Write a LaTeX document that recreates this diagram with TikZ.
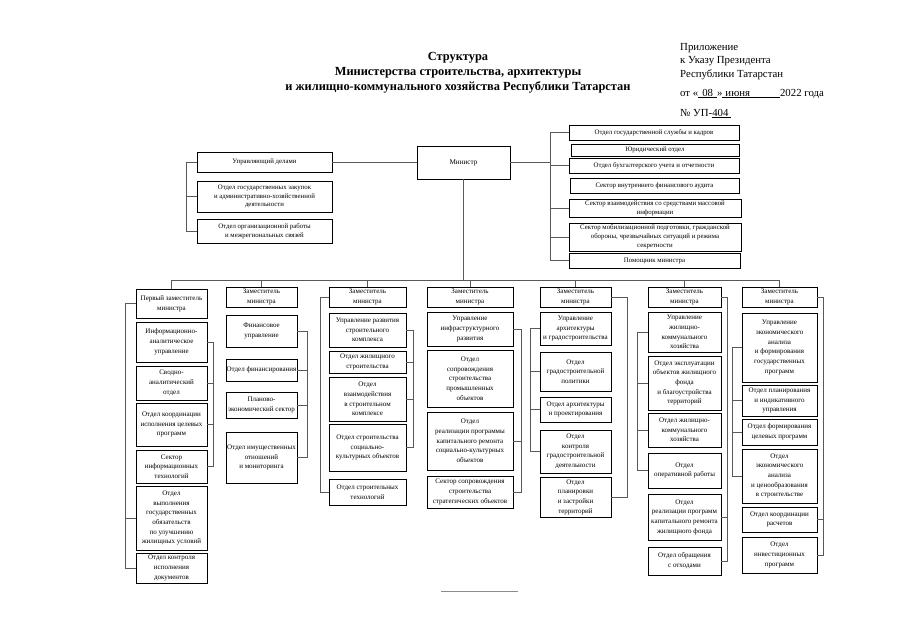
\documentclass[tikz,border=0pt]{standalone}
\usepackage{fontspec}
\setmainfont{Liberation Serif}
\newcommand\bxfont{\fontsize{7}{9.7}\selectfont}
\newcommand\topfont{\fontsize{6.8}{8.8}\selectfont}
\newcommand\hdrfont{\fontsize{10.8}{12}\selectfont}
\newcommand\ttlfont{\fontsize{12.4}{15}\selectfont\bfseries}
\tikzset{
  box/.style={draw, line width=0.85pt, inner sep=0.5pt, align=center, font=\bxfont},
  topbox/.style={box, font=\topfont},
  conn/.style={draw=black!65, line width=0.6pt},
}
\newcommand\bx[7][]{\node[box,#1,minimum width={(#5)-(#3)},minimum height={(#6)-(#4)}] (#2) at ({((#3)+(#5))/2},{((#4)+(#6))/2}) {#7};}
\begin{document}
\begin{tikzpicture}[x=1pt,y=-1pt]
\useasboundingbox[fill=white] (0,0) rectangle (905,640);
% title
\node[font=\ttlfont, align=center] (title) at (458,73) {Структура\\Министерства строительства, архитектуры\\и жилищно-коммунального хозяйства Республики Татарстан};
% header
\node[anchor=base west, font=\hdrfont, inner sep=0] (h1) at (680,50) {Приложение};
\node[anchor=base west, font=\hdrfont, inner sep=0] (h2) at (680,63) {к Указу Президента};
\node[anchor=base west, font=\hdrfont, inner sep=0] (h3) at (680,77) {Республики Татарстан};
\node[anchor=base west, font=\hdrfont, inner sep=0] (h4) at (680,96) {от «\underline{\hspace{4pt}08\hspace{4pt}}»\underline{\hspace{3pt}июня\hspace{30pt}}2022 года};
\node[anchor=base west, font=\hdrfont, inner sep=0] (h5) at (680,116) {№ УП-\underline{404\hspace{3pt}}};
% minister
\node[box, font=\fontsize{7.2}{9}\selectfont, minimum width=93, minimum height=33] (min) at (463.5,162.5) {Министр};
% left group
\bx[topbox]{upd}{197}{152}{332}{172}{Управляющий делами}
\bx[topbox]{zak}{197}{181}{332}{212}{Отдел государственных закупок\\и административно-хозяйственной\\деятельности}
\bx[topbox]{org}{197}{219}{332}{243}{Отдел организационной работы\\и межрегиональных связей}
\draw[conn] (upd.east) -- (upd.east -| min.west);
\draw[conn] (upd.west) -- +(-10,0) |- (org.west);
\draw[conn] (zak.west) -- +(-10,0);
% right group
\bx[topbox]{r1}{569}{125}{739}{140}{Отдел государственной службы и кадров}
\bx[topbox]{r2}{571}{144}{739}{156}{Юридический отдел}
\bx[topbox]{r3}{569}{158}{739}{173}{Отдел бухгалтерского учета и отчетности}
\bx[topbox]{r4}{570}{178}{739}{193}{Сектор внутреннего финансового аудита}
\bx[topbox]{r5}{569}{199}{741}{217}{Сектор взаимодействия со средствами массовой\\информации}
\bx[topbox]{r6}{569}{223}{741}{251}{Сектор мобилизационной подготовки, гражданской\\обороны, чрезвычайных ситуаций и режима\\секретности}
\bx[topbox]{r7}{569}{253}{740}{268}{Помощник министра}
\coordinate (rb) at (551,162);
\draw[conn] (min.east) -- (min.east -| rb);
\draw[conn] (r1.west) -- +(-18,0) |- (r7.west);
\draw[conn] (r3.west) -- +(-18,0);
\draw[conn] (r5.west) -- +(-18,0);
\draw[conn] (r6.west) -- +(-18,0);
% column 1
\bx{d1}{136}{289}{207}{318}{Первый заместитель\\министра}
\bx{c1a}{136}{322}{207}{362}{Информационно-\\аналитическое\\управление}
\bx{c1b}{136}{366}{207}{400}{Сводно-\\аналитический\\отдел}
\bx{c1c}{136}{403}{207}{446}{Отдел координации\\исполнения целевых\\программ}
\bx{c1d}{136}{450}{207}{483}{Сектор\\информационных\\технологий}
\bx{c1e}{136}{486}{207}{550}{Отдел\\выполнения\\государственных\\обязательств\\по улучшению\\жилищных условий}
\bx{c1f}{136}{553}{207}{583}{Отдел контроля\\исполнения\\документов}
\draw[conn] (d1.west) -- +(-10,0) |- (c1f.west);
\draw[conn] (c1e.west) -- +(-10,0);
\draw[conn] (c1a.east) -- +(6,0) |- (c1d.east);
\draw[conn] (c1b.east) -- +(6,0);
\draw[conn] (c1c.east) -- +(6,0);
% column 2
\bx{d2}{226}{287}{297}{307}{Заместитель\\министра}
\bx{c2a}{226}{315}{297}{347}{Финансовое\\управление}
\bx{c2b}{226}{359}{297}{381}{Отдел финансирования}
\bx{c2c}{226}{392}{297}{418}{Планово-\\экономический сектор}
\bx{c2d}{226}{432}{297}{483}{Отдел имущественных\\отношений\\и мониторинга}
\draw[conn] (c2a.east) -- +(10,0) |- (c2d.east);
\draw[conn] (c2b.east) -- +(10,0);
\draw[conn] (c2c.east) -- +(10,0);
% column 3
\bx{d3}{329}{287}{406}{307}{Заместитель\\министра}
\bx{c3a}{329}{313}{406}{347}{Управление развития\\строительного\\комплекса}
\bx{c3b}{329}{351}{406}{373}{Отдел жилищного\\строительства}
\bx{c3c}{329}{377}{406}{421}{Отдел\\взаимодействия\\в строительном\\комплексе}
\bx{c3d}{329}{424}{406}{471}{Отдел строительства\\социально-\\культурных объектов}
\bx{c3e}{329}{479}{406}{505}{Отдел строительных\\технологий}
\draw[conn] (d3.west) -- +(-8,0) |- (c3e.west);
\draw[conn] (c3a.east) -- +(7,0) |- (c3d.east);
\draw[conn] (c3b.east) -- +(7,0);
\draw[conn] (c3c.east) -- +(7,0);
% column 4
\bx{d4}{427}{287}{513}{307}{Заместитель\\министра}
\bx{c4a}{427}{312}{513}{346}{Управление\\инфраструктурного\\развития}
\bx{c4b}{427}{350}{513}{407}{Отдел\\сопровождения\\строительства\\промышленных\\объектов}
\bx{c4c}{427}{412}{513}{470}{Отдел\\реализации программы\\капитального ремонта\\социально-культурных\\объектов}
\bx{c4d}{427}{476}{513}{508}{Сектор сопровождения\\строительства\\стратегических объектов}
\draw[conn] (c4a.east) -- +(8,0) |- (c4d.east);
\draw[conn] (c4c.east) -- +(8,0);
% column 5
\bx{d5}{540}{287}{611}{307}{Заместитель\\министра}
\bx{c5a}{540}{312}{611}{345}{Управление\\архитектуры\\и градостроительства}
\bx{c5b}{540}{352}{611}{391}{Отдел\\градостроительной\\политики}
\bx{c5c}{540}{397}{611}{422}{Отдел архитектуры\\и проектирования}
\bx{c5d}{540}{430}{611}{473}{Отдел\\контроля\\градостроительной\\деятельности}
\bx{c5e}{540}{477}{611}{517}{Отдел\\планировки\\и застройки\\территорий}
\draw[conn] (c5a.west) -- +(-9,0) |- (c5d.west);
\draw[conn] (c5b.west) -- +(-9,0);
\draw[conn] (c5c.west) -- +(-9,0);
\draw[conn] (d5.east) -- +(16,0) |- (c5e.east);
% column 6
\bx{d6}{648}{287}{721}{307}{Заместитель\\министра}
\bx{c6a}{648}{312}{721}{352}{Управление\\жилищно-\\коммунального\\хозяйства}
\bx{c6b}{648}{356}{721}{410}{Отдел эксплуатации\\объектов жилищного\\фонда\\и благоустройства\\территорий}
\bx{c6c}{648}{413}{721}{447}{Отдел жилищно-\\коммунального\\хозяйства}
\bx{c6d}{648}{453}{721}{488}{Отдел\\оперативной работы}
\bx{c6e}{648}{494}{721}{540}{Отдел\\реализации программ\\капитального ремонта\\жилищного фонда}
\bx{c6f}{648}{547}{721}{575}{Отдел обращения\\с отходами}
\draw[conn] (c6a.west) -- +(-10,0) |- (c6d.west);
\draw[conn] (c6b.west) -- +(-10,0);
\draw[conn] (c6c.west) -- +(-10,0);
\draw[conn] (d6.east) -- +(6,0) |- (c6f.east);
\draw[conn] (c6e.east) -- +(6,0);
% column 7
\bx{d7}{742}{287}{817}{307}{Заместитель\\министра}
\bx{c7a}{742}{313}{817}{382}{Управление\\экономического\\анализа\\и формирования\\государственных\\программ}
\bx{c7b}{742}{385}{817}{416}{Отдел планирования\\и индикативного\\управления}
\bx{c7c}{742}{419}{817}{445}{Отдел формирования\\целевых программ}
\bx{c7d}{742}{449}{817}{503}{Отдел\\экономического\\анализа\\и ценообразования\\в строительстве}
\bx{c7e}{742}{507}{817}{532}{Отдел координации\\расчетов}
\bx{c7f}{742}{537}{817}{573}{Отдел\\инвестиционных\\программ}
\draw[conn] (c7a.west) -- +(-9,0) |- (c7d.west);
\draw[conn] (c7b.west) -- +(-9,0);
\draw[conn] (c7c.west) -- +(-9,0);
\draw[conn] (d7.east) -- +(6,0) |- (c7f.east);
\draw[conn] (c7e.east) -- +(6,0);
% bus
\coordinate (bus) at (463.5,280);
\draw[conn] (min.south) -- (bus);
\foreach \d in {d1,d2,d3,d4,d5,d6,d7} {\draw[conn] (\d.north) |- (bus);}
% footer line
\coordinate (fl) at (441,591);
\coordinate (fr) at (518,591);
\draw[draw=black!45, line width=0.8pt] (fl) -- (fr);
\end{tikzpicture}
\end{document}
